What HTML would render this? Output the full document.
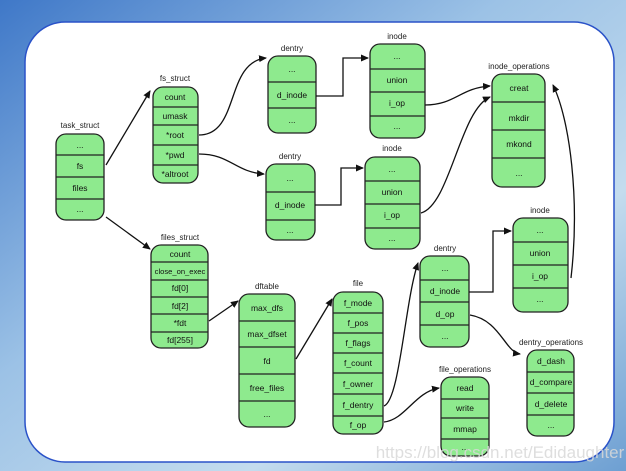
<!DOCTYPE html>
<html><head><meta charset="utf-8"><style>
html,body{margin:0;padding:0;width:626px;height:471px;overflow:hidden;background:#5b8fd0}
svg{display:block}
text{font-family:"Liberation Sans",sans-serif;font-size:8.5px;fill:#111;text-anchor:middle}
.l{font-size:8px;fill:#222}
</style></head><body>
<svg width="626" height="471" viewBox="0 0 626 471" xmlns="http://www.w3.org/2000/svg">
<defs>
<linearGradient id="bg" x1="0" y1="0" x2="1" y2="1">
<stop offset="0" stop-color="#3f78c8"/><stop offset="0.4" stop-color="#9cc2e6"/><stop offset="0.7" stop-color="#c4dcee"/><stop offset="1" stop-color="#6d9fd2"/>
</linearGradient>
<marker id="a" markerWidth="8" markerHeight="8" refX="7" refY="4" orient="auto" markerUnits="userSpaceOnUse"><path d="M0,0.5 L8,4 L0,7.5 Z" fill="#111"/></marker>
</defs>
<rect width="626" height="471" fill="url(#bg)"/>
<rect x="25" y="22" width="589" height="440" rx="40" fill="#fff" stroke="#2a52c8" stroke-width="1.5"/>

<g fill="#8eea8e" stroke="#222" stroke-width="1.3">
<rect x="56" y="134" width="48" height="86" rx="10"/>
<path d="M56 155H104M56 177H104M56 199H104"/>
<rect x="153" y="87" width="45" height="96" rx="10"/>
<path d="M153 107H198M153 125H198M153 145H198M153 165H198"/>
<rect x="268" y="56" width="48" height="77" rx="10"/>
<path d="M268 82H316M268 108H316"/>
<rect x="266" y="164" width="49" height="76" rx="10"/>
<path d="M266 192H315M266 220H315"/>
<rect x="370" y="44" width="55" height="94" rx="10"/>
<path d="M370 69H425M370 92H425M370 116H425"/>
<rect x="365" y="157" width="55" height="92" rx="10"/>
<path d="M365 181H420M365 204H420M365 228H420"/>
<rect x="492" y="74" width="53" height="113" rx="10"/>
<path d="M492 102H545M492 130H545M492 158H545"/>
<rect x="513" y="218" width="55" height="94" rx="10"/>
<path d="M513 242H568M513 265H568M513 288H568"/>
<rect x="151" y="245" width="57" height="103" rx="10"/>
<path d="M151 262H208M151 280H208M151 297H208M151 314H208M151 332H208"/>
<rect x="239" y="294" width="56" height="133" rx="10"/>
<path d="M239 321H295M239 347H295M239 374H295M239 401H295"/>
<rect x="333" y="292" width="50" height="142" rx="10"/>
<path d="M333 313H383M333 333H383M333 353H383M333 373H383M333 394H383M333 416H383"/>
<rect x="420" y="256" width="49" height="91" rx="10"/>
<path d="M420 280H469M420 302H469M420 325H469"/>
<rect x="527" y="350" width="47" height="86" rx="10"/>
<path d="M527 372H574M527 393H574M527 415H574"/>
<rect x="441" y="377" width="48" height="79" rx="10"/>
<path d="M441 399H489M441 418H489M441 439H489"/>
</g>

<g fill="none" stroke="#111" stroke-width="1.3" marker-end="url(#a)">
<path d="M106 165 L150 91"/>
<path d="M106 217 L150 249"/>
<path d="M199 135 C240 135 225 62 266 58"/>
<path d="M199 154 C230 154 235 172 264 174"/>
<path d="M316 96 H343 V58 H368"/>
<path d="M315 205 H341 V168 H363"/>
<path d="M425 105 C455 105 460 88 490 86"/>
<path d="M421 213 C450 205 460 110 490 97"/>
<path d="M571 278 C580 200 570 120 553 85"/>
<path d="M209 321 L238 301"/>
<path d="M296 359 L332 299"/>
<path d="M384 406 C400 400 405 300 418 263"/>
<path d="M384 422 C405 420 415 392 439 388"/>
<path d="M469 292 H493 V231 H511"/>
<path d="M470 315 C500 320 505 352 520 354"/>
</g>

<g>
<text class="l" x="80" y="128">task_struct</text>
<text x="80" y="148">...</text><text x="80" y="169">fs</text><text x="80" y="191">files</text><text x="80" y="212">...</text>
<text class="l" x="175" y="81">fs_struct</text>
<text x="175" y="100">count</text><text x="175" y="119">umask</text><text x="175" y="138">*root</text><text x="175" y="158">*pwd</text><text x="175" y="177">*altroot</text>
<text class="l" x="292" y="51">dentry</text>
<text x="292" y="72">...</text><text x="292" y="98">d_inode</text><text x="292" y="123">...</text>
<text class="l" x="290" y="159">dentry</text>
<text x="290" y="181">...</text><text x="290" y="208">d_inode</text><text x="290" y="233">...</text>
<text class="l" x="397" y="39">inode</text>
<text x="397" y="59">...</text><text x="397" y="83">union</text><text x="397" y="106">i_op</text><text x="397" y="129">...</text>
<text class="l" x="392" y="151">inode</text>
<text x="392" y="172">...</text><text x="392" y="195">union</text><text x="392" y="218">i_op</text><text x="392" y="241">...</text>
<text class="l" x="519" y="69">inode_operations</text>
<text x="519" y="91">creat</text><text x="519" y="121">mkdir</text><text x="519" y="147">mkond</text><text x="519" y="176">...</text>
<text class="l" x="540" y="213">inode</text>
<text x="540" y="233">...</text><text x="540" y="256">union</text><text x="540" y="279">i_op</text><text x="540" y="302">...</text>
<text class="l" x="180" y="240">files_struct</text>
<text x="180" y="257">count</text><text x="180" y="274" style="font-size:7.6px">close_on_exec</text><text x="180" y="291">fd[0]</text><text x="180" y="309">fd[2]</text><text x="180" y="326">*fdt</text><text x="180" y="343">fd[255]</text>
<text class="l" x="267" y="289">dftable</text>
<text x="267" y="311">max_dfs</text><text x="267" y="337">max_dfset</text><text x="267" y="364">fd</text><text x="267" y="391">free_files</text><text x="267" y="417">...</text>
<text class="l" x="358" y="286">file</text>
<text x="358" y="306">f_mode</text><text x="358" y="326">f_pos</text><text x="358" y="346">f_flags</text><text x="358" y="366">f_count</text><text x="358" y="387">f_owner</text><text x="358" y="408">f_dentry</text><text x="358" y="428">f_op</text>
<text class="l" x="445" y="251">dentry</text>
<text x="445" y="271">...</text><text x="445" y="294">d_inode</text><text x="445" y="317">d_op</text><text x="445" y="339">...</text>
<text class="l" x="551" y="345">dentry_operations</text>
<text x="551" y="364">d_dash</text><text x="551" y="385">d_compare</text><text x="551" y="407">d_delete</text><text x="551" y="428">...</text>
<text class="l" x="465" y="372">file_operations</text>
<text x="465" y="391">read</text><text x="465" y="411">write</text><text x="465" y="432">mmap</text><text x="465" y="450">...</text>
</g>
<text x="500" y="458" style="font-size:17px;fill:#d8d8d8;fill-opacity:0.85;text-anchor:middle">https://blog.csdn.net/Edidaughter</text>
</svg>
</body></html>
